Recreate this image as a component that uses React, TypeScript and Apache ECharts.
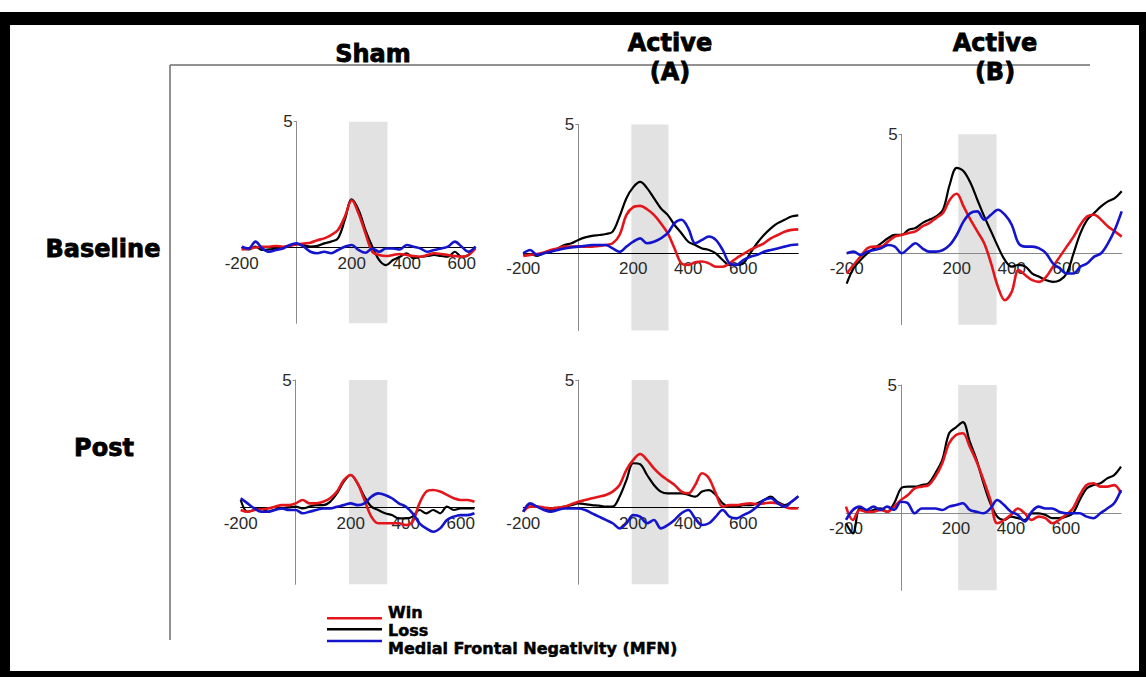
import React, { useEffect, useRef } from "react";
import * as echarts from "echarts";

// ---------- time bases (ms) ----------
const TIME_SHAM = [
  -200, -175, -150, -125, -100, -75, -50, -25, 0, 25, 50, 75, 100, 125, 150, 175,
  200, 225, 250, 275, 300, 325, 350, 375, 400, 425, 450, 475, 500, 525, 550, 575,
  600, 625, 650,
];
const TIME_ACTIVE = [
  -200, -175, -150, -125, -100, -75, -50, -25, 0, 25, 50, 75, 100, 125, 150, 175,
  200, 225, 250, 275, 300, 325, 350, 375, 400, 425, 450, 475, 500, 525, 550, 575,
  600, 625, 650, 675, 700, 725, 750, 775, 800,
];

// ---------- Sham / Baseline (µV) ----------
const SHAM_BASE_WIN = [
  -0.07, -0.03, 0.01, 0.04, 0.04, 0.07, 0.04, 0.08, 0.13, 0.17, 0.2, 0.3, 0.37, 0.5, 0.7, 1.23,
  1.88, 1.36, 0.57, -0.16, -0.29, -0.33, -0.29, -0.25, -0.29, -0.33, -0.36, -0.29, -0.22, -0.25, -0.29, -0.33,
  -0.36, -0.29, -0.03,
];
const SHAM_BASE_LOSS = [
  -0.03, -0.07, 0.04, -0.09, -0.07, -0.03, 0.01, 0.07, 0.15, 0.1, 0.04, 0.07, 0.17, 0.24, 0.37, 1.1,
  1.92, 1.5, 0.7, 0.04, -0.49, -0.69, -0.49, -0.36, -0.22, -0.42, -0.36, -0.33, -0.29, -0.33, -0.36, -0.16,
  -0.36, -0.29, 0.04,
];
const SHAM_BASE_MFN = [
  0.04, -0.03, 0.24, -0.03, -0.16, -0.09, -0.03, 0.11, 0.17, 0.04, -0.16, -0.22, -0.16, -0.22, -0.09, 0.04,
  0.11, -0.09, -0.2, -0.03, -0.16, -0.03, -0.03, -0.07, 0.11, 0.04, -0.03, -0.16, -0.09, -0.03, 0.04, 0.24,
  0.04, -0.16, 0.04,
];

// ---------- Active (A) / Baseline ----------
const A_BASE_WIN = [
  -0.1, -0.06, -0.03, 0.03, 0.13, 0.19, 0.26, 0.26, 0.26, 0.26, 0.26, 0.29, 0.32, 0.39, 0.71, 1.49,
  1.79, 1.84, 1.71, 1.49, 1.17, 0.78, 0.19, -0.39, -0.45, -0.35, -0.32, -0.39, -0.52, -0.52, -0.39, -0.19,
  -0.03, 0.13, 0.26, 0.39, 0.58, 0.71, 0.84, 0.91, 0.93,
];
const A_BASE_LOSS = [
  -0.06, -0.03, -0.1, 0, 0.06, 0.19, 0.32, 0.39, 0.52, 0.62, 0.68, 0.71, 0.75, 0.84, 1.43, 2.14,
  2.57, 2.77, 2.53, 2.14, 1.75, 1.49, 1.1, 0.78, 0.45, 0.32, 0.19, 0.13, 0, -0.26, -0.45, -0.45,
  -0.39, 0, 0.39, 0.71, 0.97, 1.17, 1.3, 1.43, 1.47,
];
const A_BASE_MFN = [
  0, 0.13, -0.06, 0, 0.06, 0.13, 0.19, 0.23, 0.26, 0.29, 0.32, 0.32, 0.32, 0.19, 0.06, 0.26,
  0.45, 0.58, 0.39, 0.45, 0.58, 0.78, 1.17, 1.3, 0.97, 0.39, 0.52, 0.65, 0.52, 0.13, -0.39, -0.45,
  -0.26, -0.13, -0.06, 0.06, 0.13, 0.19, 0.26, 0.32, 0.34,
];

// ---------- Active (B) / Baseline ----------
const B_BASE_WIN = [
  -0.85, -0.49, -0.14, 0.21, 0.28, 0.28, 0.49, 0.7, 0.77, 0.85, 0.92, 1.13, 1.27, 1.48, 1.69, 2.25,
  2.5, 1.97, 1.41, 0.92, 0.42, -0.42, -1.41, -1.97, -1.62, -0.7, -0.92, -1.13, -1.2, -0.99, -0.56, -0.14,
  0.28, 0.7, 1.2, 1.55, 1.62, 1.41, 1.13, 0.92, 0.7,
];
const B_BASE_LOSS = [
  -1.27, -0.63, -0.28, 0, 0.21, 0.42, 0.63, 0.77, 0.77, 0.99, 1.06, 1.27, 1.41, 1.55, 1.83, 2.9,
  3.59, 3.45, 2.96, 2.25, 1.55, 0.92, 0.28, -0.28, -0.56, -0.49, -0.56, -0.85, -0.99, -1.13, -1.2, -1.13,
  -0.85, 0, 0.85, 1.41, 1.69, 1.97, 2.18, 2.32, 2.61,
];
const B_BASE_MFN = [
  0, 0.07, -0.07, 0.07, 0.14, 0.21, 0.35, 0.28, 0, 0.21, 0.42, 0.21, 0.07, 0.07, 0.14, 0.35,
  0.77, 1.34, 1.69, 1.76, 1.41, 1.62, 1.83, 1.62, 1.2, 0.42, 0.28, 0.28, 0.21, 0, -0.42, -0.63,
  -0.85, -0.85, -0.56, -0.42, -0.14, 0, 0.42, 0.99, 1.76,
];

// ---------- Sham / Post ----------
const SHAM_POST_WIN = [
  -0.09, -0.16, -0.09, -0.07, -0.03, 0.04, 0.1, 0.1, 0.17, 0.3, 0.17, 0.17, 0.23, 0.37, 0.63, 1.08,
  1.28, 0.95, 0.3, -0.35, -0.61, -0.61, -0.61, -0.61, -0.68, -0.55, 0.17, 0.63, 0.69, 0.63, 0.5, 0.37,
  0.3, 0.3, 0.23,
];
const SHAM_POST_LOSS = [
  0.3, -0.16, -0.09, -0.03, -0.16, -0.07, -0.03, 0.01, 0.04, -0.03, 0.04, 0.1, 0.1, 0.23, 0.56, 1.02,
  1.28, 0.95, 0.43, 0.04, -0.09, -0.22, -0.29, -0.42, -0.42, -0.35, -0.09, -0.22, -0.09, -0.22, 0.04, -0.09,
  -0.03, -0.03, -0.03,
];
const SHAM_POST_MFN = [
  0.37, 0.17, -0.03, -0.16, -0.16, -0.09, -0.03, -0.09, -0.09, -0.22, -0.16, -0.09, -0.03, -0.03, 0.04, 0.1,
  0.17, 0.1, 0.17, 0.43, 0.56, 0.5, 0.37, 0.17, 0.04, -0.22, -0.61, -0.81, -0.94, -0.81, -0.48, -0.35,
  -0.29, -0.29, -0.22,
];

// ---------- Active (A) / Post ----------
const A_POST_WIN = [
  -0.16, 0.04, 0.04, 0.01, -0.03, 0.01, 0.04, 0.14, 0.23, 0.3, 0.37, 0.43, 0.5, 0.63, 0.89, 1.48,
  1.87, 2.1, 1.87, 1.54, 1.28, 1.08, 0.89, 0.63, 0.56, 0.89, 1.35, 1.15, 0.56, 0.04, 0.1, 0.1,
  0.14, 0.17, 0.14, 0.17, 0.2, 0.17, 0.04, -0.03, -0.02,
];
const A_POST_LOSS = [
  -0.16, 0.14, 0.04, -0.03, -0.09, -0.03, 0.04, 0.1, 0.17, 0.14, 0.1, 0.08, 0.04, 0.04, 0.43, 1.08,
  1.74, 1.7, 1.28, 0.89, 0.63, 0.56, 0.56, 0.56, 0.5, 0.43, 0.63, 0.69, 0.5, 0.17, 0.04, 0.04,
  0.1, 0.1, 0.17, 0.3, 0.43, 0.23, 0.1, 0.23, 0.45,
];
const A_POST_MFN = [
  -0.16, 0.17, 0.04, -0.09, -0.16, -0.09, -0.03, -0.03, -0.03, -0.09, -0.22, -0.35, -0.48, -0.61, -0.81, -0.61,
  -0.29, -0.35, -0.61, -0.48, -0.81, -0.68, -0.48, -0.22, -0.09, -0.42, -0.68, -0.61, -0.35, -0.09, -0.35, -0.42,
  -0.29, -0.16, 0.04, 0.3, 0.37, 0.17, 0.04, 0.23, 0.45,
];

// ---------- Active (B) / Post ----------
const B_POST_WIN = [
  0.26, -0.26, 0.13, 0.06, 0.06, 0.13, 0.06, 0.26, 0.52, 0.71, 0.97, 1.04, 1.1, 1.43, 1.95, 2.73,
  3.05, 3.12, 2.6, 2.01, 1.3, 0.52, -0.39, -0.26, -0.06, 0.19, 0, -0.26, -0.13, -0.19, -0.39, -0.26,
  -0.06, 0.19, 0.71, 1.1, 1.17, 1.04, 1.04, 1.1, 0.78,
];
const B_POST_LOSS = [
  -0.39, -0.78, 0.19, 0.06, 0.13, 0.19, 0.06, 0.39, 0.97, 1.04, 1.04, 1.1, 1.17, 1.56, 2.08, 3.12,
  3.35, 3.55, 2.79, 2.08, 1.17, 0.39, -0.13, -0.26, -0.13, -0.19, -0.26, 0, 0, -0.06, -0.19, -0.19,
  -0.13, 0, 0.52, 0.97, 1.1, 1.17, 1.36, 1.49, 1.82,
];
const B_POST_MFN = [
  -0.26, 0.13, 0.26, 0.13, 0.26, 0.13, 0.26, 0.13, 0.45, 0.39, 0, 0.19, 0.19, 0.19, 0.13, 0.26,
  0.32, 0.39, 0.13, 0.06, 0, 0.19, 0.52, 0.32, 0.06, -0.06, -0.32, 0.06, 0.26, 0.19, 0.19, 0.06,
  0, 0, 0, -0.13, -0.19, 0, 0.19, 0.39, 0.91,
];

// ---------- shaded analysis windows (ms) ----------
const SHADE_SHAM_BASE = [190, 330];
const SHADE_A_BASE = [193, 328];
const SHADE_B_BASE = [206, 345];
const SHADE_SHAM_POST = [194, 333];
const SHADE_A_POST = [194, 328];
const SHADE_B_POST = [208, 348];

// ---------- labels ----------
const COLUMN_TITLES = ["Sham", "Active\n(A)", "Active\n(B)"];
const ROW_TITLES = ["Baseline", "Post"];
const LEGEND_NAMES = ["Win", "Loss", "Medial Frontal Negativity (MFN)"];
const X_TICK_LABELS = [-200, 200, 400, 600];
const Y_TICK_LABELS = [5];
const X_MIN = -200;
const Y_MIN = -3;
const Y_MAX = 5;

const COLORS = { win: "#e3161c", loss: "#000000", mfn: "#1414cc" };

const PANELS = [
  { time: TIME_SHAM, win: SHAM_BASE_WIN, loss: SHAM_BASE_LOSS, mfn: SHAM_BASE_MFN, shade: SHADE_SHAM_BASE, xMax: 650 },
  { time: TIME_ACTIVE, win: A_BASE_WIN, loss: A_BASE_LOSS, mfn: A_BASE_MFN, shade: SHADE_A_BASE, xMax: 800 },
  { time: TIME_ACTIVE, win: B_BASE_WIN, loss: B_BASE_LOSS, mfn: B_BASE_MFN, shade: SHADE_B_BASE, xMax: 800 },
  { time: TIME_SHAM, win: SHAM_POST_WIN, loss: SHAM_POST_LOSS, mfn: SHAM_POST_MFN, shade: SHADE_SHAM_POST, xMax: 650 },
  { time: TIME_ACTIVE, win: A_POST_WIN, loss: A_POST_LOSS, mfn: A_POST_MFN, shade: SHADE_A_POST, xMax: 800 },
  { time: TIME_ACTIVE, win: B_POST_WIN, loss: B_POST_LOSS, mfn: B_POST_MFN, shade: SHADE_B_POST, xMax: 800 },
];

// grid placement in pixels
const LAYOUT = [
  { left: 241.7, top: 121.7, width: 233.75, height: 201.6, zero: "#000000" },
  { left: 523.3, top: 124.5, width: 275, height: 206.1, zero: "#000000" },
  { left: 846.7, top: 134.3, width: 275, height: 190.4, zero: "#8a8a8a" },
  { left: 240.7, top: 380, width: 233.75, height: 204.3, zero: "#000000" },
  { left: 523.3, top: 380, width: 275, height: 204.3, zero: "#000000" },
  { left: 846, top: 385, width: 275, height: 205.3, zero: "#8a8a8a" },
];

const TICK_FONT = "Liberation Sans";
const HEAD_FONT = "DejaVu Sans";

function buildOption() {
  const grid = LAYOUT.map((l) => ({ left: l.left, top: l.top, width: l.width, height: l.height }));
  // axes cross at (0 ms, 0 µV): shift each axis from the grid edge to the zero of the other axis
  const xAxis = PANELS.map((p, i) => ({
    type: "value",
    gridIndex: i,
    min: X_MIN,
    max: p.xMax,
    position: "bottom",
    offset: -((0 - Y_MIN) / (Y_MAX - Y_MIN)) * LAYOUT[i].height,
    z: 3,
    axisLine: { show: true, onZero: false, lineStyle: { color: LAYOUT[i].zero, width: 1 } },
    axisTick: { show: false },
    splitLine: { show: false },
    axisLabel: {
      customValues: X_TICK_LABELS,
      fontSize: 17,
      fontFamily: TICK_FONT,
      color: "#2a2a2a",
      margin: 7,
    },
  }));
  const yAxis = PANELS.map((p, i) => ({
    type: "value",
    gridIndex: i,
    min: Y_MIN,
    max: Y_MAX,
    position: "left",
    offset: -((0 - X_MIN) / (p.xMax - X_MIN)) * LAYOUT[i].width,
    axisLine: { show: true, onZero: false, lineStyle: { color: "#8c8c8c", width: 1 } },
    axisTick: { show: true, customValues: Y_TICK_LABELS, length: 3, lineStyle: { color: "#8c8c8c" } },
    splitLine: { show: false },
    axisLabel: {
      customValues: Y_TICK_LABELS,
      fontSize: 17,
      fontFamily: TICK_FONT,
      color: "#2a2a2a",
      margin: 4,
    },
  }));

  const series: any[] = [];
  PANELS.forEach((p, i) => {
    series.push({
      type: "line",
      xAxisIndex: i,
      yAxisIndex: i,
      data: [],
      z: 0,
      silent: true,
      markArea: {
        silent: true,
        z: 0,
        itemStyle: { color: "#e2e2e2" },
        data: [[{ xAxis: p.shade[0] }, { xAxis: p.shade[1] }]],
      },
    });
    const mk = (name: string, vals: number[], color: string, width: number, z: number) => ({
      name,
      type: "line",
      xAxisIndex: i,
      yAxisIndex: i,
      data: p.time.map((t, k) => [t, vals[k]]),
      showSymbol: false,
      symbol: "none",
      smooth: 0.35,
      z,
      lineStyle: { color, width },
      itemStyle: { color },
    });
    series.push(mk(LEGEND_NAMES[1], p.loss, COLORS.loss, 2.2, 4));
    series.push(mk(LEGEND_NAMES[0], p.win, COLORS.win, 2.6, 5));
    series.push(mk(LEGEND_NAMES[2], p.mfn, COLORS.mfn, 2.6, 6));
  });

  const headStyle = (text: string, x: number, y: number, size = 24) => ({
    type: "text",
    x,
    y,
    z: 10,
    silent: true,
    style: {
      text,
      fill: "#000",
      fontSize: size,
      fontWeight: "bold",
      fontFamily: HEAD_FONT,
      align: "center",
      verticalAlign: "middle",
      lineHeight: 29,
      stroke: "#000",
      lineWidth: 0.8,
    },
  });

  const graphic: any[] = [
    { type: "rect", z: -20, silent: true, shape: { x: 0, y: 12, width: 1146, height: 665 }, style: { fill: "#000" } },
    { type: "rect", z: -19, silent: true, shape: { x: 10, y: 25, width: 1129, height: 646 }, style: { fill: "#fff" } },
    { type: "line", z: 1, silent: true, shape: { x1: 170, y1: 65, x2: 1090, y2: 65 }, style: { stroke: "#6e6e6e", lineWidth: 1.5 } },
    { type: "line", z: 1, silent: true, shape: { x1: 170, y1: 65, x2: 170, y2: 640 }, style: { stroke: "#6e6e6e", lineWidth: 1.5 } },
    headStyle(COLUMN_TITLES[0], 373, 54),
    headStyle(COLUMN_TITLES[1], 670, 57),
    headStyle(COLUMN_TITLES[2], 995, 57),
    headStyle(ROW_TITLES[0], 103, 249),
    headStyle(ROW_TITLES[1], 104, 448),
  ];

  const legendLineY = [618.3, 629.3, 641];
  const legendTextY = [612.5, 630.5, 648.5];
  const legendColors = [COLORS.win, COLORS.loss, COLORS.mfn];
  LEGEND_NAMES.forEach((name, k) => {
    graphic.push({
      type: "line",
      z: 10,
      silent: true,
      shape: { x1: 327, y1: legendLineY[k], x2: 382, y2: legendLineY[k] },
      style: { stroke: legendColors[k], lineWidth: 2.5 },
    });
    graphic.push({
      type: "text",
      x: 388,
      y: legendTextY[k],
      z: 10,
      silent: true,
      style: {
        text: name,
        fill: "#000",
        fontSize: 16,
        fontWeight: "bold",
        fontFamily: HEAD_FONT,
        align: "left",
        verticalAlign: "middle",
        lineHeight: 14,
        stroke: "#000",
        lineWidth: 0.5,
      },
    });
  });

  return {
    animation: false,
    backgroundColor: "#ffffff",
    grid,
    xAxis,
    yAxis,
    series,
    graphic,
  };
}

export default function App() {
  const ref = useRef<HTMLDivElement>(null);
  useEffect(() => {
    document.body.style.margin = "0";
    if (!ref.current) return;
    const chart = echarts.init(ref.current, undefined, { renderer: "svg" });
    chart.setOption(buildOption() as any);
    return () => chart.dispose();
  }, []);
  return (
    <div
      ref={ref}
      style={{ position: "fixed", left: 0, top: 0, width: 1146, height: 677, background: "#fff" }}
    />
  );
}
